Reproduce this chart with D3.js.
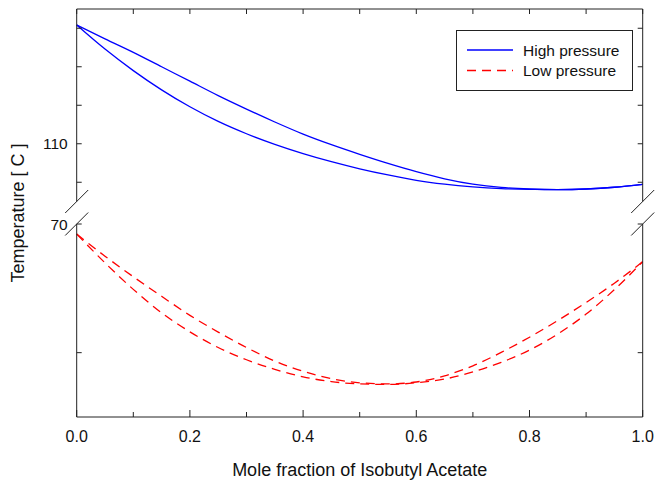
<!DOCTYPE html>
<html lang="en">
<head>
    <meta charset="UTF-8">
    <title>Txy diagram</title>
    <style>
        body { margin: 0; background: #fff; }
        text { font-family: "Liberation Sans", Arial, sans-serif; fill: #111; }
    </style>
</head>
<body>
    <svg width="671" height="482"></svg>

    <script src="https://d3js.org/d3.v7.min.js"></script>
    <script>
        // mole fraction grid for each series
        var xHigh = [0, 0.05, 0.1, 0.15, 0.2, 0.25, 0.3, 0.35, 0.4, 0.45, 0.5, 0.55, 0.6, 0.65, 0.7, 0.75, 0.8, 0.85, 0.9, 0.95, 1.0];
        var highDew    = [116.17, 115.45, 114.75, 114.0, 113.25, 112.5, 111.8, 111.13, 110.5, 109.95, 109.45, 108.98, 108.55, 108.18, 107.9, 107.73, 107.65, 107.62, 107.65, 107.74, 107.89];
        var highBubble = [116.17, 114.92, 113.8, 112.8, 111.92, 111.16, 110.52, 109.97, 109.49, 109.07, 108.7, 108.38, 108.1, 107.9, 107.76, 107.67, 107.63, 107.62, 107.65, 107.74, 107.89];

        var xLow = [0, 0.05, 0.1, 0.15, 0.2, 0.25, 0.3, 0.35, 0.4, 0.45, 0.5, 0.55, 0.6, 0.65, 0.7, 0.75, 0.8, 0.85, 0.9, 0.95, 1.0];
        var lowDew    = [69.22, 67.5, 65.9, 64.38, 62.9, 61.6, 60.4, 59.35, 58.55, 57.98, 57.66, 57.57, 57.72, 58.2, 58.98, 60.02, 61.2, 62.5, 63.9, 65.4, 67.07];
        var lowBubble = [69.22, 66.98, 64.92, 63.1, 61.62, 60.4, 59.45, 58.7, 58.12, 57.75, 57.57, 57.53, 57.66, 57.95, 58.5, 59.25, 60.2, 61.45, 63.0, 64.9, 67.07];

        var xTicks = [0, 0.2, 0.4, 0.6, 0.8, 1.0];
        var xMinor = [0.1, 0.3, 0.5, 0.7, 0.9];
        var upperTicks = [108, 110, 112, 114, 116];
        var upperLabels = [110];
        var lowerTicks = [60, 70];
        var lowerLabels = [70];

        var legendNames = ['High pressure', 'Low pressure'];

        var svg = d3.select('svg');

        var plotLeft = 76.7, plotRight = 642.7, plotTop = 9, plotBottom = 417;
        var breakTop = 201.5, breakBottom = 224;

        var x = d3.scaleLinear().domain([0, 1]).range([plotLeft, plotRight]);
        var yUp = d3.scaleLinear().domain([107, 117]).range([breakTop, plotTop]);
        var yLow = d3.scaleLinear().domain([55, 70]).range([plotBottom, breakBottom]);

        var axisColor = '#222';

        // curves
        function drawCurve(xs, ys, yScale, color, dash) {
            var pts = xs.map(function(v, i) { return [v, ys[i]]; });
            var line = d3.line()
                .x(function(d) { return x(d[0]); })
                .y(function(d) { return yScale(d[1]); })
                .curve(d3.curveMonotoneX);
            svg.append('path')
                .attr('d', line(pts))
                .attr('fill', 'none')
                .attr('stroke', color)
                .attr('stroke-width', 1.3)
                .attr('stroke-dasharray', dash);
        }

        drawCurve(xHigh, highDew, yUp, '#0000ff', null);
        drawCurve(xHigh, highBubble, yUp, '#0000ff', null);
        drawCurve(xLow, lowDew, yLow, '#ff0000', '9,6');
        drawCurve(xLow, lowBubble, yLow, '#ff0000', '9,6');

        // frame
        var frame = svg.append('g').attr('stroke', axisColor).attr('stroke-width', 1).attr('fill', 'none');
        frame.append('line').attr('x1', plotLeft).attr('x2', plotRight).attr('y1', plotTop).attr('y2', plotTop);
        frame.append('line').attr('x1', plotLeft).attr('x2', plotRight).attr('y1', plotBottom).attr('y2', plotBottom);
        [plotLeft, plotRight].forEach(function(px) {
            frame.append('line').attr('x1', px).attr('x2', px).attr('y1', plotTop).attr('y2', breakTop);
            frame.append('line').attr('x1', px).attr('x2', px).attr('y1', breakBottom).attr('y2', plotBottom);
            // break marks
            [breakTop, breakBottom].forEach(function(py) {
                frame.append('line')
                    .attr('x1', px - 11.5).attr('y1', py + 11.5)
                    .attr('x2', px + 11.5).attr('y2', py - 11.5);
            });
        });

        // x ticks, inward
        xTicks.forEach(function(t) {
            frame.append('line').attr('x1', x(t)).attr('x2', x(t)).attr('y1', plotBottom).attr('y2', plotBottom - 7);
            frame.append('line').attr('x1', x(t)).attr('x2', x(t)).attr('y1', plotTop).attr('y2', plotTop + 5);
        });
        xMinor.forEach(function(t) {
            frame.append('line').attr('x1', x(t)).attr('x2', x(t)).attr('y1', plotBottom).attr('y2', plotBottom - 5);
            frame.append('line').attr('x1', x(t)).attr('x2', x(t)).attr('y1', plotTop).attr('y2', plotTop + 5);
        });

        svg.selectAll('.xlab').data(xTicks).enter().append('text')
            .attr('x', function(d) { return x(d); })
            .attr('y', 442)
            .attr('text-anchor', 'middle')
            .attr('font-size', 16)
            .text(function(d) { return d3.format('.1f')(d); });

        // y ticks on both sides
        function yTicks(ticks, scale) {
            ticks.forEach(function(t) {
                var py = scale(t);
                frame.append('line').attr('x1', plotLeft).attr('x2', plotLeft + 5).attr('y1', py).attr('y2', py);
                frame.append('line').attr('x1', plotRight).attr('x2', plotRight - 5).attr('y1', py).attr('y2', py);
            });
        }
        yTicks(upperTicks, yUp);
        yTicks(lowerTicks, yLow);

        function yLabels(labels, scale) {
            labels.forEach(function(t) {
                svg.append('text')
                    .attr('x', plotLeft - 9)
                    .attr('y', scale(t) + 5.5)
                    .attr('text-anchor', 'end')
                    .attr('font-size', 15.5)
                    .text(t);
            });
        }
        yLabels(upperLabels, yUp);
        yLabels(lowerLabels, yLow);

        // axis titles
        svg.append('text')
            .attr('x', (plotLeft + plotRight) / 2)
            .attr('y', 476)
            .attr('text-anchor', 'middle')
            .attr('font-size', 18)
            .text('Mole fraction of Isobutyl Acetate');

        svg.append('text')
            .attr('transform', 'translate(24,213) rotate(-90)')
            .attr('text-anchor', 'middle')
            .attr('font-size', 18)
            .text('Temperature [ C ]');

        // legend
        var legend = svg.append('g');
        legend.append('rect')
            .attr('x', 456.5).attr('y', 30.5)
            .attr('width', 176).attr('height', 60)
            .attr('fill', '#fff').attr('stroke', axisColor);
        var legendStyles = [{ color: '#0000ff', dash: null }, { color: '#ff0000', dash: '9,6' }];
        legendNames.forEach(function(name, i) {
            var ly = 50 + i * 20.5;
            legend.append('line')
                .attr('x1', 467).attr('x2', 513)
                .attr('y1', ly).attr('y2', ly)
                .attr('stroke', legendStyles[i].color)
                .attr('stroke-width', 1.3)
                .attr('stroke-dasharray', legendStyles[i].dash);
            legend.append('text')
                .attr('x', 523)
                .attr('y', ly + 5.5)
                .attr('font-size', 15.5)
                .text(name);
        });
    </script>
</body>
</html>
